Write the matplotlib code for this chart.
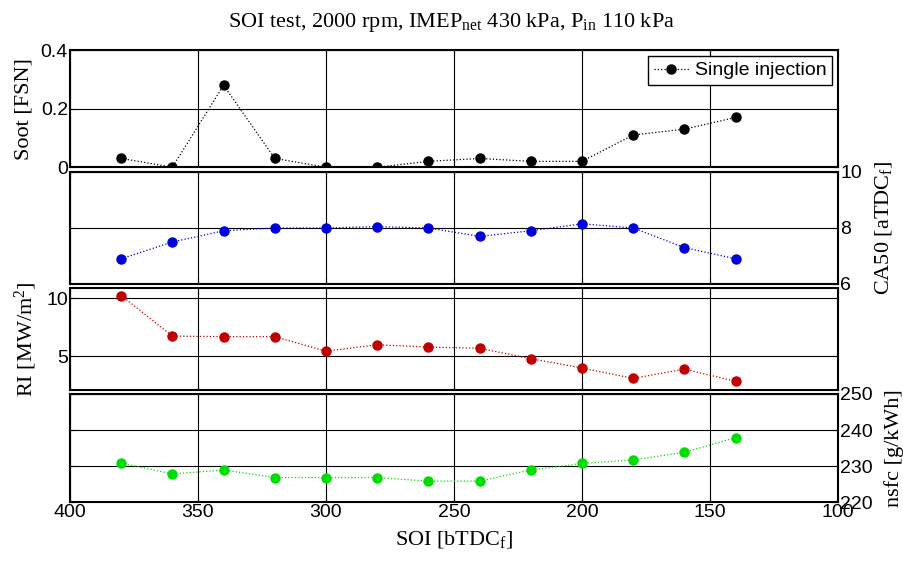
import numpy as np
import matplotlib
matplotlib.use("Agg")
import matplotlib.pyplot as plt

plt.rcParams['font.family'] = 'Liberation Sans'
plt.rcParams['mathtext.default'] = 'regular'

# SOI sweep, single injection
soi = [380, 360, 340, 320, 300, 280, 260, 240, 220, 200, 180, 160, 140]
soot = [0.03, 0.0, 0.28, 0.03, 0.0, 0.0, 0.02, 0.03, 0.02, 0.02, 0.11, 0.13, 0.17]
ca50 = [6.9, 7.5, 7.9, 8.0, 8.0, 8.05, 8.0, 7.7, 7.9, 8.15, 8.0, 7.3, 6.9]
ri = [10.25, 6.75, 6.7, 6.7, 5.45, 6.0, 5.8, 5.7, 4.8, 4.0, 3.1, 3.9, 2.85]
nsfc = [230.8, 227.8, 228.9, 226.8, 226.8, 226.8, 225.8, 225.8, 228.9, 230.7, 231.7, 233.8, 237.9]

xticks = [400, 350, 300, 250, 200, 150, 100]

serif = 'Liberation Serif'
fig = plt.figure(figsize=(9.04, 5.63), dpi=100)

L, W = 0.0774, 0.8496
boxes = [(0.703, 0.208), (0.4956, 0.1989), (0.3073, 0.1812), (0.1083, 0.1919)]

panels = [
    (soot, 'k', (0, 0.4), [0, 0.2, 0.4], ['0', '0.2', '0.4'], 'left', 'Soot [FSN]'),
    (ca50, '#0000d8', (6, 10), [6, 8, 10], ['6', '8', '10'], 'right', 'CA50 [aTDC$_f$]'),
    (ri, '#c00000', (2.1, 10.9), [5, 10], ['5', '10'], 'left', 'RI [MW/m$^2$]'),
    (nsfc, '#00dd00', (220, 250), [220, 230, 240, 250], ['220', '230', '240', '250'], 'right', 'nsfc [g/kWh]'),
]

axes = []
for (b, h), (y, c, lim, yt, ytl, side, lab) in zip(boxes, panels):
    ax = fig.add_axes([L, b, W, h])
    ln, = ax.plot(soi, y, ':', color=c, lw=0.9, marker='o', ms=6.5,
                  markerfacecolor=c, markeredgecolor=c)
    ax.set_xlim(400, 100)
    ax.set_ylim(*lim)
    ax.set_xticks(xticks)
    ax.set_yticks(yt)
    ax.set_yticklabels(ytl)
    ax.grid(True, color='k', lw=0.8)
    ax.tick_params(direction='in', length=4, labelsize=14, pad=1.5, top=True, right=True,
                   labelbottom=False)
    if side == 'right':
        ax.tick_params(labelleft=False, labelright=True)
        ax.yaxis.set_label_position('right')
        ax.set_ylabel(lab, fontsize=16, family=serif, rotation=90, labelpad=8)
    else:
        ax.set_ylabel(lab, fontsize=16, family=serif, labelpad=5)
    for s in ax.spines.values():
        s.set_linewidth(1.5)
    axes.append((ax, ln))

ax0, ln0 = axes[0]
leg = ax0.legend([ln0], ['Single injection'], loc='upper right', fontsize=14,
                 fancybox=False, framealpha=1, edgecolor='k', borderaxespad=0.3,
                 handlelength=1.8, handletextpad=0.3, borderpad=0.3)
leg.get_frame().set_linewidth(1.0)

ax3 = axes[3][0]
ax3.tick_params(labelbottom=True)
ax3.set_xticklabels([str(v) for v in xticks])
ax3.set_xlabel('SOI [bTDC$_f$]', fontsize=16, family=serif, labelpad=6)

fig.suptitle('SOI test, 2000 rpm, IMEP$_{net}$ 430 kPa, P$_{in}$ 110 kPa',
             fontsize=16, family=serif, y=0.98)

fig.savefig('out.png', dpi=100)
